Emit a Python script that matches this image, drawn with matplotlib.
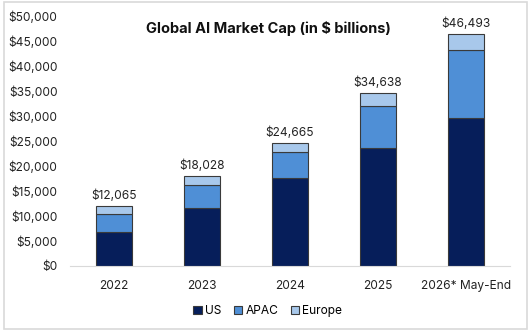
import numpy as np
import matplotlib.pyplot as plt
from matplotlib.patches import Rectangle

# Data ($ billions)
years = ["2022", "2023", "2024", "2025", "2026* May-End"]
totals = [12065, 18028, 24665, 34638, 46493]
us = [6800, 11530, 17530, 23530, 29600]
apac = [3660, 4600, 5200, 8540, 13600]
europe = [t - u - a for t, u, a in zip(totals, us, apac)]

plt.rcParams['font.family'] = ['Inter', 'DejaVu Sans']

fig = plt.figure(figsize=(5.31, 3.31), dpi=100)
ax = fig.add_axes([0.1318, 0.1964, 0.8286, 0.7553])

x = np.arange(len(years))
w = 0.41
edge = dict(edgecolor="#3a3a3a", linewidth=0.8)
ax.bar(x, us, w, color="#061e5a", label="US", **edge)
ax.bar(x, apac, w, bottom=us, color="#4f8fd6", label="APAC", **edge)
bottom2 = [u + a for u, a in zip(us, apac)]
ax.bar(x, europe, w, bottom=bottom2, color="#a8c8eb", label="Europe", **edge)

for xi, t in zip(x, totals):
    ax.text(xi, t + 700, f"${t:,}", ha="center", va="bottom", fontsize=8.6, color="#222222")

ax.set_xlim(-0.5, len(years) - 0.5)
ax.set_ylim(0, 50000)
ax.set_yticks(range(0, 50001, 5000))
ax.set_yticklabels([f"${v:,}" for v in range(0, 50001, 5000)])
ax.set_xticks(x)
ax.set_xticklabels(years)
ax.tick_params(length=0, labelsize=8.6, colors="#222222")
ax.tick_params(axis="x", pad=10)
ax.tick_params(axis="y", pad=9)
for s in ["top", "right", "left"]:
    ax.spines[s].set_visible(False)
ax.spines["bottom"].set_color("#d9d9d9")

ax.text(0.45, 0.95, "Global AI Market Cap (in $ billions)", transform=ax.transAxes,
        ha="center", va="center", fontsize=10.5, fontweight="bold", color="#111111")

ax.legend(loc="upper center", bbox_to_anchor=(0.45, -0.115), ncol=3, frameon=False,
          fontsize=8.6, handlelength=0.7, handleheight=0.7, handletextpad=0.3, columnspacing=1.0)

fig.patches.append(Rectangle((0.008, 0.006), 0.985, 0.988, transform=fig.transFigure,
                             fill=False, edgecolor="#d9d9d9", linewidth=1.2))

fig.savefig("out.png", dpi=100)
